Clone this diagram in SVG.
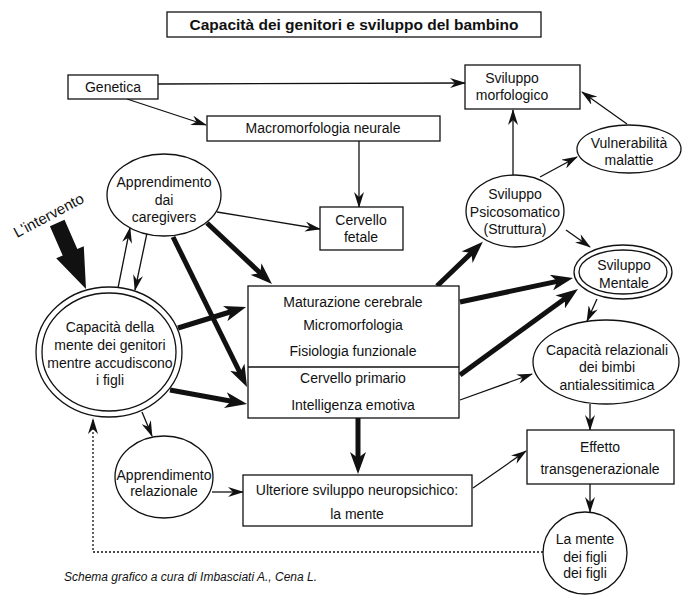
<svg xmlns="http://www.w3.org/2000/svg" width="682" height="595" viewBox="0 0 682 595">
<defs>
<style>
.box{fill:#fff;stroke:#111;stroke-width:1.3}
.t{font-family:"Liberation Sans",Arial,sans-serif;font-size:14px;fill:#111;text-anchor:middle}
.thin{fill:none;stroke:#111;stroke-width:1.3;marker-end:url(#ah)}
.thick{fill:none;stroke:#111;stroke-width:5;marker-end:url(#ahb)}
</style>
<marker id="ah" viewBox="0 0 16 10" markerWidth="16" markerHeight="10" refX="15" refY="5" orient="auto" markerUnits="userSpaceOnUse">
<path d="M0,0 L16,5 L0,10 L5,5 z" fill="#111"/>
</marker>
<marker id="ahb" viewBox="0 0 22 16" markerWidth="22" markerHeight="16" refX="12" refY="8" orient="auto" markerUnits="userSpaceOnUse">
<path d="M0,0 L22,8 L0,16 L6,8 z" fill="#111"/>
</marker>
</defs>
<rect width="682" height="595" fill="#fff"/>

<g id="title">
<rect class="box" x="167" y="12" width="374" height="25"/>
<text class="t" x="354" y="30" style="font-weight:bold;font-size:15.5px">Capacità dei genitori e sviluppo del bambino</text>
</g>

<g id="connectors">
<line class="thin" x1="158" y1="84" x2="465" y2="83"/>
<line class="thin" x1="127" y1="99" x2="206" y2="125"/>
<line class="thin" x1="359" y1="141" x2="359" y2="207"/>
<line class="thin" x1="217" y1="212" x2="320" y2="229"/>
<line class="thin" x1="118" y1="288" x2="130" y2="228"/>
<line class="thin" x1="147" y1="233" x2="135" y2="290"/>
<line class="thin" x1="142" y1="412" x2="152" y2="436"/>
<line class="thin" x1="212" y1="492" x2="243" y2="492"/>
<line class="thin" x1="513" y1="175" x2="513" y2="110"/>
<line class="thin" x1="540" y1="177" x2="577" y2="157"/>
<line class="thin" x1="627" y1="124" x2="582" y2="92"/>
<line class="thin" x1="566" y1="230" x2="590" y2="247"/>
<line class="thin" x1="460" y1="400" x2="532" y2="374"/>
<line class="thin" x1="597" y1="299" x2="587" y2="321"/>
<line class="thin" x1="590" y1="404" x2="590" y2="430"/>
<line class="thin" x1="473" y1="488" x2="526" y2="451"/>
<line class="thin" x1="590" y1="484" x2="590" y2="512"/>
<path class="thin" d="M543,552 H93 V419" stroke-dasharray="2,2"/>
<line class="thick" x1="207" y1="223" x2="264.7" y2="277.2"/>
<line class="thick" x1="173" y1="237" x2="242.6" y2="378"/>
<line class="thick" x1="178" y1="328" x2="236.5" y2="310"/>
<line class="thick" x1="170" y1="390" x2="237.2" y2="402.2"/>
<line class="thick" x1="437" y1="286" x2="475.7" y2="248.8"/>
<line class="thick" x1="460" y1="302" x2="563.2" y2="280.1"/>
<line class="thick" x1="460" y1="375" x2="569.9" y2="294.9"/>
<line class="thick" x1="358" y1="418" x2="358" y2="464"/>
<polygon points="64.5,219.8 49.9,226.2 62.7,255.5 56.2,258.3 86,289 83.8,246.3 77.3,249.1" fill="#111"/>
<text class="t" x="17" y="238" transform="rotate(-28 17 238)" style="text-anchor:start;font-size:15px">L'intervento</text>
</g>

<g id="genetica">
<rect class="box" x="68" y="75" width="90" height="24"/>
<text class="t" x="113" y="92">Genetica</text>
</g>
<g id="macromorfologia">
<rect class="box" x="207" y="116" width="233" height="25"/>
<text class="t" x="323" y="133">Macromorfologia neurale</text>
</g>
<g id="sviluppo-morfologico">
<rect class="box" x="465" y="65" width="115" height="44"/>
<text class="t" x="512" y="83">Sviluppo</text>
<text class="t" x="512" y="100">morfologico</text>
</g>
<g id="cervello-fetale">
<rect class="box" x="320" y="207" width="83" height="43"/>
<text class="t" x="361" y="225">Cervello</text>
<text class="t" x="361" y="242">fetale</text>
</g>
<g id="apprendimento-caregivers">
<ellipse class="box" cx="164" cy="195" rx="57" ry="41"/>
<text class="t" x="164" y="187">Apprendimento</text>
<text class="t" x="164" y="205">dai</text>
<text class="t" x="164" y="222">caregivers</text>
</g>
<g id="sviluppo-psicosomatico">
<ellipse class="box" cx="515" cy="211" rx="49" ry="36"/>
<text class="t" x="515" y="199">Sviluppo</text>
<text class="t" x="515" y="217">Psicosomatico</text>
<text class="t" x="515" y="234">(Struttura)</text>
</g>
<g id="vulnerabilita">
<ellipse class="box" cx="629" cy="149" rx="52" ry="24"/>
<text class="t" x="629" y="148">Vulnerabilità</text>
<text class="t" x="629" y="165">malattie</text>
</g>
<g id="sviluppo-mentale">
<ellipse class="box" cx="623" cy="272" rx="49" ry="27"/>
<ellipse class="box" cx="623" cy="272" rx="44" ry="22"/>
<text class="t" x="624" y="270">Sviluppo</text>
<text class="t" x="624" y="288">Mentale</text>
</g>
<g id="maturazione">
<rect class="box" x="248" y="286" width="211" height="132"/>
<line x1="248" y1="367" x2="459" y2="367" stroke="#111" stroke-width="1.3"/>
<text class="t" x="353" y="307">Maturazione cerebrale</text>
<text class="t" x="353" y="330">Micromorfologia</text>
<text class="t" x="353" y="356">Fisiologia funzionale</text>
<text class="t" x="353" y="383">Cervello primario</text>
<text class="t" x="353" y="410">Intelligenza emotiva</text>
</g>
<g id="capacita-genitori">
<ellipse class="box" cx="109" cy="352" rx="73" ry="65"/>
<ellipse class="box" cx="109" cy="352" rx="67" ry="59"/>
<text class="t" x="110" y="332">Capacità della</text>
<text class="t" x="110" y="350">mente dei genitori</text>
<text class="t" x="110" y="368">mentre accudiscono</text>
<text class="t" x="110" y="385">i figli</text>
</g>
<g id="capacita-relazionali">
<ellipse class="box" cx="606" cy="362" rx="73" ry="42"/>
<text class="t" x="607" y="355">Capacità relazionali</text>
<text class="t" x="607" y="372">dei bimbi</text>
<text class="t" x="607" y="390">antialessitimica</text>
</g>
<g id="apprendimento-relazionale">
<ellipse class="box" cx="164" cy="477" rx="49" ry="41"/>
<text class="t" x="164" y="480">Apprendimento</text>
<text class="t" x="164" y="496">relazionale</text>
</g>
<g id="ulteriore">
<rect class="box" x="243" y="475" width="229" height="51"/>
<text class="t" x="357" y="495">Ulteriore sviluppo neuropsichico:</text>
<text class="t" x="357" y="519">la mente</text>
</g>
<g id="effetto">
<rect class="box" x="527" y="430" width="147" height="54"/>
<text class="t" x="600" y="452">Effetto</text>
<text class="t" x="600" y="474">transgenerazionale</text>
</g>
<g id="mente-figli">
<ellipse class="box" cx="585" cy="553" rx="42" ry="41"/>
<text class="t" x="585" y="544">La mente</text>
<text class="t" x="585" y="562">dei figli</text>
<text class="t" x="585" y="578">dei figli</text>
</g>
<text class="t" x="64" y="581" style="text-anchor:start;font-style:italic;font-size:12px">Schema grafico a cura di Imbasciati A., Cena L.</text>
</svg>
